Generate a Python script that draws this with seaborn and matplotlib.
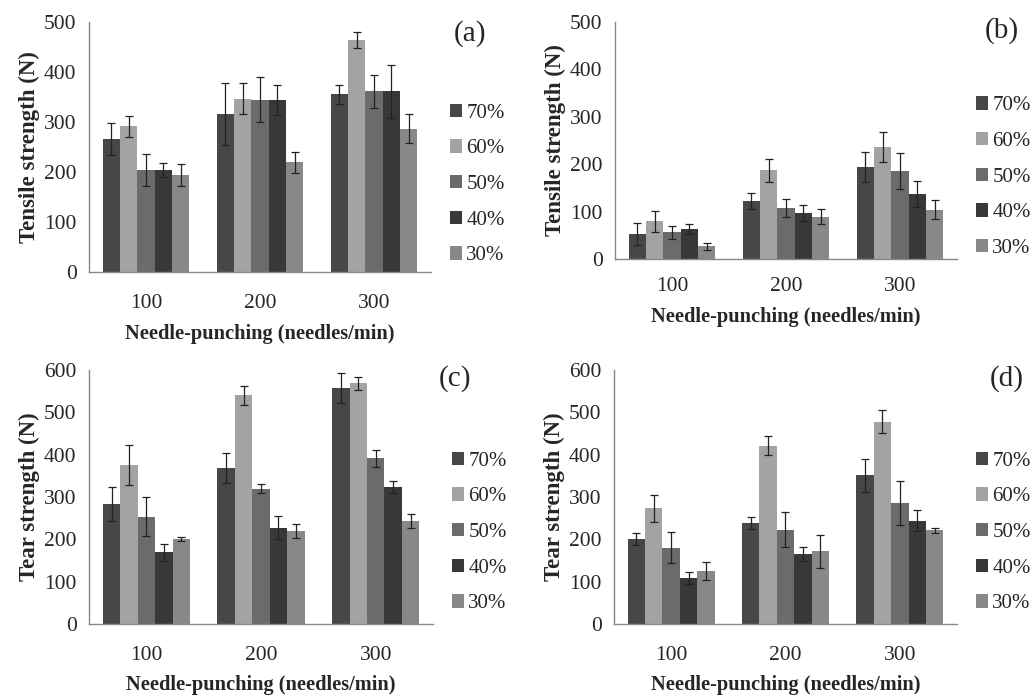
import pandas as pd
import matplotlib.pyplot as plt
import seaborn as sns
from matplotlib.patches import Patch

speeds = ['100', '200', '300']
ratios = ['70%', '60%', '50%', '40%', '30%']
colors = ['#474747', '#a3a3a3', '#6b6b6b', '#383838', '#888888']

# values per ratio, one entry per needle-punching speed
tensile_a = {'70%': [266, 316, 355], '60%': [291, 346, 463], '50%': [203, 344, 361],
             '40%': [204, 344, 361], '30%': [193, 219, 286]}
tensile_a_err = {'70%': [32, 62, 19], '60%': [21, 31, 16], '50%': [32, 45, 33],
                 '40%': [14, 30, 53], '30%': [22, 21, 29]}

tensile_b = {'70%': [53, 122, 194], '60%': [80, 187, 236], '50%': [56, 108, 186],
             '40%': [63, 97, 137], '30%': [27, 89, 104]}
tensile_b_err = {'70%': [24, 17, 32], '60%': [22, 24, 31], '50%': [13, 19, 38],
                 '40%': [10, 16, 28], '30%': [7, 16, 20]}

tear_c = {'70%': [283, 369, 557], '60%': [376, 540, 569], '50%': [254, 320, 392],
          '40%': [170, 228, 324], '30%': [201, 220, 244]}
tear_c_err = {'70%': [40, 35, 35], '60%': [48, 23, 15], '50%': [46, 11, 20],
              '40%': [20, 27, 14], '30%': [5, 16, 17]}

tear_d = {'70%': [201, 239, 351], '60%': [273, 421, 478], '50%': [180, 223, 287],
          '40%': [109, 165, 244], '30%': [125, 172, 221]}
tear_d_err = {'70%': [15, 15, 39], '60%': [31, 22, 27], '50%': [37, 42, 52],
              '40%': [15, 16, 25], '30%': [22, 39, 5]}


def to_frame(vals, errs):
    rows = []
    for r in ratios:
        for i, s in enumerate(speeds):
            rows.append({'Speed': s, 'Ratio': r, 'Value': vals[r][i], 'Err': errs[r][i]})
    return pd.DataFrame(rows)


def draw_panel(fig, rect, vals, errs, ymax, ylabel, tag, tag_xy, leg_y, tick_pad, xlabel_pad):
    ax = fig.add_axes(rect)
    df = to_frame(vals, errs)
    sns.barplot(data=df, x='Speed', y='Value', hue='Ratio', order=speeds,
                hue_order=ratios, palette=colors, width=0.76, errorbar=None,
                saturation=1, legend=False, ax=ax, linewidth=0)

    # error bars on top of each bar, taken from the patch centres
    bars = ax.patches[:len(df)]
    k = 0
    for r in ratios:
        for s in speeds:
            p = bars[k]
            row = df[(df['Ratio'] == r) & (df['Speed'] == s)].iloc[0]
            ax.errorbar(p.get_x() + p.get_width() / 2, row['Value'], yerr=row['Err'],
                        fmt='none', ecolor='#222222', elinewidth=0.9, capsize=3,
                        capthick=0.9)
            k += 1

    ax.set_xlim(-0.5, 2.5)
    ax.set_ylim(0, ymax)
    ax.set_yticks(range(0, ymax + 1, 100))
    ax.set_xticks([0.5, 1.5, 2.5, -0.5], minor=True)
    ax.tick_params(axis='x', which='major', length=0, pad=tick_pad, labelsize=15.5)
    ax.tick_params(axis='x', which='minor', length=6, color='#888888', width=1)
    ax.tick_params(axis='y', length=5, color='#888888', width=1, labelsize=15.5, pad=4)
    for side in ['top', 'right']:
        ax.spines[side].set_visible(False)
    for side in ['left', 'bottom']:
        ax.spines[side].set_color('#888888')
        ax.spines[side].set_linewidth(1)
    ax.grid(False)
    ax.set_xlabel('Needle-punching (needles/min)', fontsize=14.7, fontweight='bold',
                  labelpad=xlabel_pad)
    ax.set_ylabel(ylabel, fontsize=16.5, fontweight='bold', labelpad=3)

    handles = [Patch(facecolor=c, edgecolor='none') for c in colors]
    ax.legend(handles, ratios, loc='center left', bbox_to_anchor=(1.03, leg_y),
              frameon=False, fontsize=15, handlelength=0.6, handleheight=0.6,
              handletextpad=0.2, labelspacing=0.8, borderaxespad=0)
    ax.text(tag_xy[0], tag_xy[1], tag, transform=ax.transAxes, fontsize=21,
            ha='center', va='center')
    return ax


def main():
    sns.set_theme(style='white')
    plt.rcParams['font.family'] = ['Liberation Serif', 'DejaVu Serif']

    fig = plt.figure(figsize=(10.33, 6.97), dpi=100)
    draw_panel(fig, [0.0862, 0.6098, 0.331, 0.3587], tensile_a, tensile_a_err, 500,
               'Tensile strength (N)', '(a)', (1.115, 0.955), 0.35, 16, 8)
    draw_panel(fig, [0.5954, 0.6284, 0.331, 0.340], tensile_b, tensile_b_err, 500,
               'Tensile strength (N)', '(b)', (1.13, 0.965), 0.345, 13, 8)
    draw_panel(fig, [0.0862, 0.1047, 0.333, 0.3644], tear_c, tear_c_err, 600,
               'Tear strength (N)', '(c)', (1.064, 0.968), 0.36, 16, 7)
    draw_panel(fig, [0.5944, 0.1047, 0.332, 0.3644], tear_d, tear_d_err, 600,
               'Tear strength (N)', '(d)', (1.146, 0.968), 0.36, 16, 7)

    fig.savefig('out.png', dpi=100)
    plt.close(fig)


if __name__ == '__main__':
    main()
